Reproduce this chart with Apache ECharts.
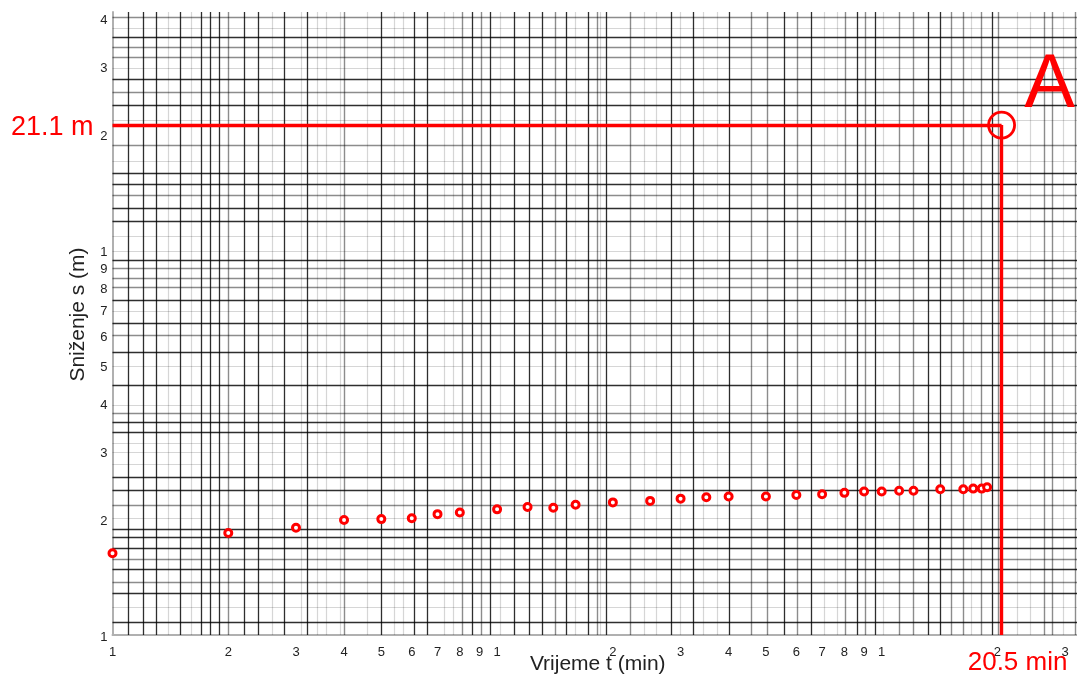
<!DOCTYPE html>
<html>
<head>
<meta charset="utf-8">
<script src="https://cdn.jsdelivr.net/npm/echarts@6/dist/echarts.min.js"></script>
<style>html,body{margin:0;padding:0;background:#fff}#c{width:1077px;height:680px}</style>
</head>
<body>
<div id="c"></div>
<script>
// Measured data: time (min) and drawdown (m)
const timeMin = [0.1,0.2,0.3,0.4,0.5,0.6,0.7,0.8,1.0,1.2,1.4,1.6,2.0,2.5,3.0,3.5,4.0,5,6,7,8,9,10,11.1,12.1,14.2,16.3,17.3,18.2,18.8];
const drawdown = [1.63,1.84,1.90,1.99,2.00,2.01,2.06,2.08,2.12,2.15,2.14,2.18,2.21,2.23,2.26,2.28,2.29,2.29,2.31,2.32,2.34,2.36,2.36,2.37,2.37,2.39,2.39,2.40,2.40,2.42];

// Point A (read-off)
const pointA = [20.5, 21.1];
const pointALabelX = '20.5 min';
const pointALabelY = '21.1 m';

// Tick labels (log paper mantissas)
const xTickValues = [0.1,0.2,0.3,0.4,0.5,0.6,0.7,0.8,0.9,1,2,3,4,5,6,7,8,9,10,20,30];
const xTickLabels = ['1','2','3','4','5','6','7','8','9','1','2','3','4','5','6','7','8','9','1','2','3'];
const yTickValues = [1,2,3,4,5,6,7,8,9,10,20,30,40];
const yTickLabels = ['1','2','3','4','5','6','7','8','9','1','2','3','4'];

// Printed grid of the (scanned) log paper
const xGridDark = [0.1115,0.121,0.1311,0.1512,0.1712,0.1818,0.1907,0.222,0.2415,0.2831,0.3234,0.5013,0.6058,0.6564,0.863,0.959,1.112,1.212,1.315,1.512,1.725,1.921,2.83,3.24,4.019,5.587,6.57,8.62,9.64,13.23,14.19,19.42];
const xGridGray = [0.1991,0.4025,0.805,0.905,1.418,1.817,2.218,4.583,5.027,6.053,8.04,9.06,11.12,12.1,15.16,16.32,18.15,20.13,26.46,27.71,31.86];
const xGridLight = [0.1417,0.162,0.2615,0.3055,0.3444,0.3646,0.3906,0.4584,0.5429,0.5694,0.728,0.767,1.018,1.605,1.856,2.415,2.603,3.005,3.44,3.727,7.088,7.674,10.07,17.06,22.47,24.33,29.71];
const yGridDark = [35.68,27.76,23.71,15.82,14.84,12.83,11.89,9.42,7.42,6.44,5.44,4.44,3.56,3.37,2.568,2.371,1.882,1.786,1.683,1.475,1.283,1.083];
const yGridGray = [40.2,33.62,31.59,25.68,18.74,13.84,8.99,8.44,7.98,6.02,3.77,2.173,1.573,1.373];
const yGridLight = [37.65,29.65,21.76,16.96,10.83,9.94,6.92,4.98,3.96,3.15,2.975,2.78,2.01,1.184];

const X_MIN = 0.1, X_MAX = 32.2, Y_MIN = 1, Y_MAX = 41.5;
const RED = '#ff0000';
const FONT = 'Liberation Sans, Arial, sans-serif';

function gridSeries(xs, ys, color, width) {
  const data = xs.map(v => ({xAxis: v})).concat(ys.map(v => ({yAxis: v})));
  return {
    type: 'scatter', data: [], z: 1, silent: true,
    markLine: {
      silent: true, symbol: ['none','none'], animation: false,
      label: {show: false},
      lineStyle: {color: color, width: width, type: 'solid', opacity: 1},
      emphasis: {disabled: true},
      data: data
    }
  };
}

const chart = echarts.init(document.getElementById('c'), null, {renderer: 'canvas'});
chart.setOption({
  animation: false,
  backgroundColor: '#ffffff',
  grid: {left: 112.5, right: 0, top: 12, bottom: 45, containLabel: false},
  xAxis: {
    type: 'log', logBase: 10, min: X_MIN, max: X_MAX,
    name: 'Vrijeme t (min)', nameLocation: 'middle', nameGap: 19,
    nameTextStyle: {fontFamily: FONT, fontSize: 21, color: '#222', padding: [0, 0, 0, 6]},
    axisLine: {show: true, lineStyle: {color: '#b0b0b0', width: 2}},
    axisTick: {show: false}, axisLabel: {show: false},
    splitLine: {show: false}, minorSplitLine: {show: false}
  },
  yAxis: {
    type: 'log', logBase: 10, min: Y_MIN, max: Y_MAX,
    name: 'Sniženje s (m)', nameLocation: 'middle', nameGap: 24, nameRotate: 90,
    nameTextStyle: {fontFamily: FONT, fontSize: 21, color: '#222', padding: [0, 0, 0, 18]},
    axisLine: {show: true, lineStyle: {color: '#b0b0b0', width: 2}},
    axisTick: {show: false}, axisLabel: {show: false},
    splitLine: {show: false}, minorSplitLine: {show: false}
  },
  series: [
    gridSeries(xGridLight, yGridLight, 'rgba(0,0,0,0.16)', 1.2),
    gridSeries(xGridGray, yGridGray, 'rgba(0,0,0,0.45)', 1.4),
    gridSeries(xGridDark, yGridDark, 'rgba(0,0,0,0.82)', 1.3),
    {
      // x tick labels
      type: 'scatter', z: 3, silent: true, clip: false, symbolSize: 0,
      itemStyle: {opacity: 1},
      data: xTickValues.map((v, i) => ({value: [v, Y_MIN], name: xTickLabels[i]})),
      label: {show: true, position: 'bottom', distance: 11, formatter: p => p.name,
              fontFamily: FONT, fontSize: 13, color: '#222'}
    },
    {
      // y tick labels
      type: 'scatter', z: 3, silent: true, clip: false, symbolSize: 0,
      itemStyle: {opacity: 1},
      data: yTickValues.map((v, i) => ({value: [X_MIN, v], name: yTickLabels[i]})),
      label: {show: true, position: 'left', distance: 5, formatter: p => p.name,
              fontFamily: FONT, fontSize: 13, color: '#222', offset: [0, 2]}
    },
    {
      // read-off lines for point A
      type: 'scatter', data: [], z: 4, silent: true,
      markLine: {
        silent: true, symbol: ['none','none'], animation: false,
        label: {show: false},
        lineStyle: {color: RED, width: 3.4, type: 'solid', opacity: 1},
        emphasis: {disabled: true},
        data: [
          [{coord: [X_MIN, pointA[1]]}, {coord: [pointA[0], pointA[1]]}],
          [{coord: [pointA[0], pointA[1]]}, {coord: [pointA[0], Y_MIN]}]
        ]
      }
    },
    {
      // circle at A + letter
      type: 'scatter', z: 5, silent: true, clip: false,
      symbol: 'circle', symbolSize: 26,
      itemStyle: {color: 'rgba(0,0,0,0)', borderColor: RED, borderWidth: 2.8, opacity: 1},
      data: [{value: pointA, name: 'A'}],
      label: {show: true, position: 'inside', offset: [48, -39], formatter: 'A',
              fontFamily: FONT, fontSize: 76, color: RED, textBorderWidth: 0}
    },
    {
      // y read-off text
      type: 'scatter', z: 5, silent: true, clip: false, symbolSize: 0,
      itemStyle: {opacity: 1},
      data: [{value: [X_MIN, pointA[1]], name: pointALabelY}],
      label: {show: true, position: 'left', distance: 19, formatter: p => p.name,
              fontFamily: FONT, fontSize: 27, color: RED, offset: [0, 2]}
    },
    {
      // x read-off text
      type: 'scatter', z: 5, silent: true, clip: false, symbolSize: 0,
      itemStyle: {opacity: 1},
      data: [{value: [pointA[0], Y_MIN], name: pointALabelX}],
      label: {show: true, position: 'bottom', distance: 15, formatter: p => p.name,
              fontFamily: FONT, fontSize: 26, color: RED, offset: [16, 0]}
    },
    {
      // measured drawdown
      type: 'scatter', z: 6, clip: false,
      symbol: 'circle', symbolSize: 7,
      itemStyle: {color: '#ffffff', borderColor: RED, borderWidth: 3, opacity: 1},
      emphasis: {disabled: true},
      data: timeMin.map((t, i) => [t, drawdown[i]])
    }
  ]
});
</script>
</body>
</html>
